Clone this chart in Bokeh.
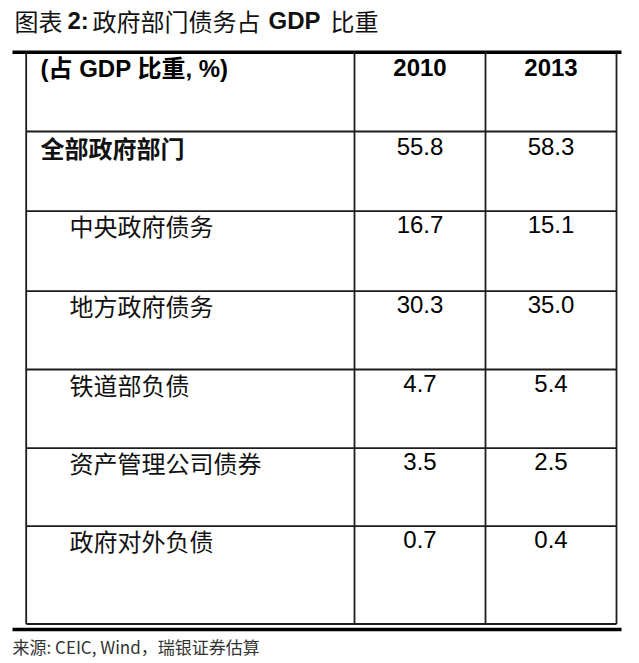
from bokeh.plotting import figure
from bokeh.models import Range1d, ColumnDataSource
from bokeh.core.properties import value
from bokeh.embed import file_html
from bokeh.resources import INLINE

# ---- data ----
title_parts = ["图表", "2:", "政府部门债务占", "GDP", "比重"]
header_label = "(占 GDP 比重, %)"
years = ["2010", "2013"]
categories = ["全部政府部门", "中央政府债务", "地方政府债务", "铁道部负债", "资产管理公司债券", "政府对外负债"]
values_2010 = [55.8, 16.7, 30.3, 4.7, 3.5, 0.7]
values_2013 = [58.3, 15.1, 35.0, 5.4, 2.5, 0.4]
source_note = "来源: CEIC, Wind，瑞银证券估算"

# ---- layout (page pixel coordinates) ----
W, H = 639, 663
p = figure(width=W, height=H, x_range=Range1d(0, W), y_range=Range1d(H, 0),
           output_backend="svg", toolbar_location=None, min_border=0)
p.axis.visible = False
p.grid.visible = False
p.outline_line_color = None
p.background_fill_color = "white"
p.border_fill_color = "white"

LINE = "#1c1c1c"
col_x = [25.7, 354, 485, 616]
row_tops = [131, 210.7, 290.7, 369, 447.7, 525.7]
table_top, table_bottom = 51.7, 623.5

# thick rules
p.segment(x0=[12, 12], y0=[table_top, 629], x1=[621, 621], y1=[table_top, 629],
          line_color="black", line_width=3.5)
# verticals
p.segment(x0=col_x, y0=[table_top] * 4, x1=col_x, y1=[table_bottom] * 4,
          line_color=LINE, line_width=1.8)
# horizontals
hy = row_tops + [table_bottom]
p.segment(x0=[col_x[0]] * len(hy), y0=hy, x1=[col_x[-1]] * len(hy), y1=hy,
          line_color=LINE, line_width=1.8)

CJK = "Noto Sans CJK SC"
MIX = "Liberation Sans, Noto Sans CJK SC"

# title
title_x = [14, 67, 92, 268, 330]
title_bold = ["normal", "bold", "normal", "bold", "normal"]
title_font = [CJK, "Liberation Sans", CJK, "Liberation Sans", CJK]
for t, x, b, f in zip(title_parts, title_x, title_bold, title_font):
    p.text(x=[x], y=[19.5], text=[t], text_font=value(f), text_font_size="24px",
           text_font_style=b, text_baseline="middle", text_align="left", text_color="#111111")

# header
p.text(x=[40], y=[68], text=[header_label], text_font=value(MIX), text_font_size="24px",
       text_font_style="bold", text_baseline="middle", text_color="black")
col_centers = [(col_x[1] + col_x[2]) / 2, (col_x[2] + col_x[3]) / 2]
p.text(x=col_centers, y=[67, 67], text=years, text_font=value("Liberation Sans"),
       text_font_size="24px", text_font_style="bold", text_baseline="middle",
       text_align="center", text_color="black")

# rows
label_y = [t + 14.5 for t in row_tops]
label_y[0] = 147
lab_x = [40] + [69] * (len(categories) - 1)
styles = ["bold"] + ["normal"] * (len(categories) - 1)
src = ColumnDataSource(dict(x=lab_x, y=label_y, text=categories, style=styles))
p.text(x="x", y="y", text="text", source=src, text_font=value(CJK), text_font_size="24px",
       text_font_style="style", text_baseline="middle", text_color="#111111")

vsrc = ColumnDataSource(dict(
    y=[y - 1 for y in label_y],
    v10=[f"{v:.1f}" for v in values_2010],
    v13=[f"{v:.1f}" for v in values_2013],
))
p.text(x=col_centers[0], y="y", text="v10", source=vsrc, text_font=value("Liberation Sans"),
       text_font_size="24px", text_baseline="middle", text_align="center", text_color="black")
p.text(x=col_centers[1], y="y", text="v13", source=vsrc, text_font=value("Liberation Sans"),
       text_font_size="24px", text_baseline="middle", text_align="center", text_color="black")

# source note
p.text(x=[12], y=[646], text=[source_note], text_font=value(CJK), text_font_size="17px",
       text_baseline="middle", text_color="#333333")

open("out.html", "w").write(file_html(p, INLINE))
